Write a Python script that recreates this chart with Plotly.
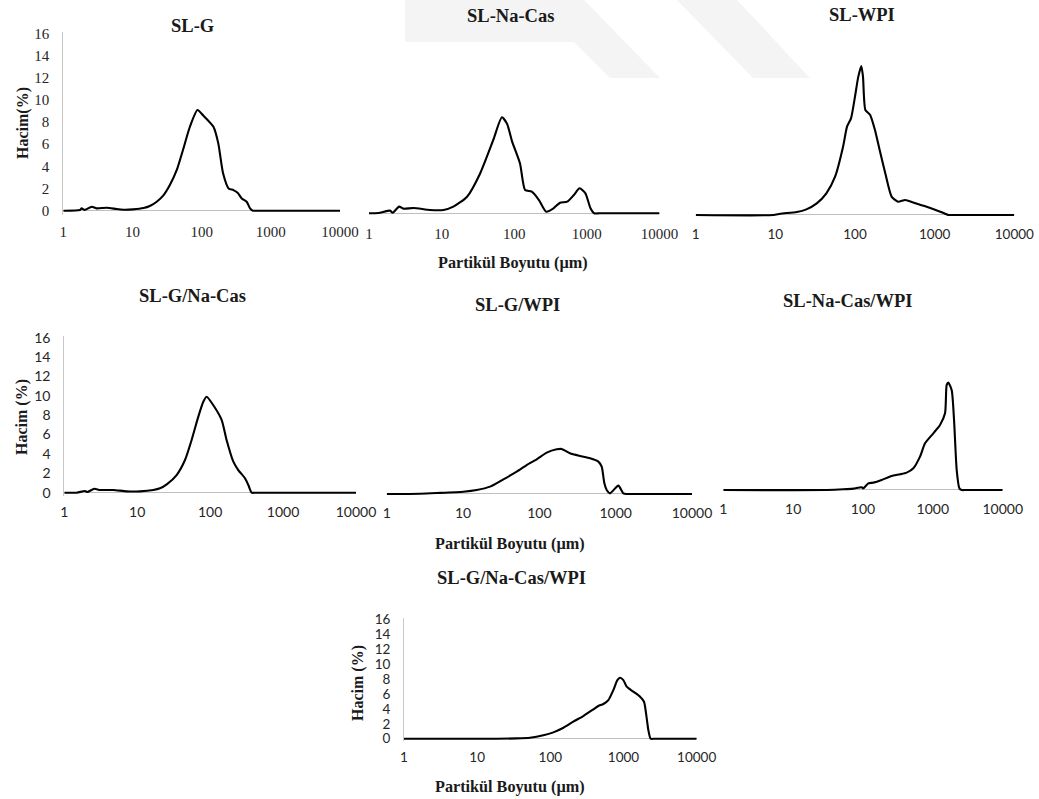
import plotly.graph_objects as go

W, H = 1039, 799

# ---------------- data (particle size in µm, volume %) ----------------
slg_size = [1, 1.74, 1.84, 2.04, 2.57, 3.02, 4.27, 5.89, 7.41, 10.2, 14.5, 17.8, 22.4, 28.2, 34.7,
            43.7, 53.7, 67.6, 87.1, 105, 148, 174, 204, 245, 288, 331, 380, 447, 501, 550, 600, 1000, 10000]
slg_vol = [0, 0.06, 0.21, 0.06, 0.36, 0.21, 0.27, 0.15, 0.09, 0.12, 0.24, 0.42, 0.81, 1.41, 2.31,
           3.67, 5.47, 7.57, 9.08, 8.6, 7.57, 6.07, 3.37, 2.01, 1.86, 1.62, 1.11, 0.81, 0.21, 0, 0, 0, 0]

slnacas_size = [1, 1.35, 1.95, 2.12, 2.6, 2.97, 4.1, 6.9, 10.6, 14.5, 22.4, 33.9, 51.3, 67.6, 79.4,
                93.3, 120, 141, 174, 219, 275, 347, 427, 537, 661, 794, 955, 1122, 1259, 1500, 10000]
slnacas_vol = [0, 0.02, 0.24, 0.05, 0.6, 0.42, 0.48, 0.3, 0.3, 0.6, 1.5, 3.6, 6.6, 8.67, 8.1,
               6.5, 4.5, 2.1, 1.95, 1.2, 0.15, 0.45, 0.96, 1.05, 1.65, 2.26, 1.8, 0.45, 0, 0, 0]

slwpi_size = [1, 9.44, 11.5, 18.6, 24.5, 33.1, 43.7, 56.2, 70.8, 79.4, 89.1, 100, 110, 120, 126,
              135, 155, 178, 204, 240, 288, 347, 427, 537, 794, 1175, 1349, 1479, 1700, 10000]
slwpi_vol = [0, 0, 0.12, 0.27, 0.51, 1.05, 1.96, 3.46, 6.17, 7.98, 8.73, 10.7, 12.5, 13.46, 12.5,
             9.49, 9.04, 7.68, 5.87, 3.77, 1.66, 1.2, 1.36, 1.14, 0.75, 0.3, 0.12, 0, 0, 0]

slgnacas_size = [1, 1.48, 1.92, 2.07, 2.58, 3.08, 4.7, 7.16, 10.9, 16.6, 20.5, 25.4, 34.7, 45.2, 55.7,
                 68.8, 80.5, 89.6, 110, 144, 168, 208, 243, 301, 334, 371, 420, 1000, 10000]
slgnacas_vol = [0, 0, 0.17, 0.07, 0.41, 0.28, 0.28, 0.14, 0.14, 0.28, 0.45, 0.86, 1.82, 3.37, 5.44,
                7.85, 9.39, 9.91, 9.05, 7.5, 5.44, 3.2, 2.34, 1.48, 0.79, 0, 0, 0, 0]

slgwpi_size = [1, 2.73, 4.52, 10.1, 15.1, 22.6, 33.8, 50.5, 68.2, 92.3, 125, 169, 196, 252, 341,
               461, 593, 656, 711, 763, 844, 1084, 1259, 1393, 1600, 10000]
slgwpi_vol = [0, 0.03, 0.1, 0.24, 0.41, 0.76, 1.51, 2.31, 2.99, 3.58, 4.27, 4.61, 4.65, 4.2, 3.92,
              3.68, 3.34, 2.82, 1.1, 0.41, 0.07, 0.86, 0.07, 0, 0, 0]

slnacaswpi_size = [1, 30.2, 52.3, 72.7, 95.7, 101, 119, 141, 185, 257, 339, 422, 526, 655, 773,
                   1016, 1267, 1494, 1578, 1667, 1862, 2011, 2195, 2399, 2588, 3000, 10000]
slnacaswpi_vol = [0, 0, 0.07, 0.14, 0.28, 0.17, 0.69, 0.76, 1.03, 1.45, 1.62, 1.79, 2.24, 3.44, 4.82,
                  5.85, 6.71, 7.91, 10.84, 11.08, 10.3, 7.23, 2.06, 0.17, 0, 0, 0]

slgnacaswpi_size = [1, 18.5, 34.7, 52.7, 80.2, 110, 151, 206, 282, 387, 453, 530, 621, 726, 824,
                    896, 995, 1104, 1362, 1683, 1905, 2032, 2183, 2351, 2700, 10000]
slgnacaswpi_vol = [0, 0, 0.04, 0.13, 0.45, 0.85, 1.47, 2.28, 3.04, 3.93, 4.38, 4.65, 5.18, 6.52, 7.86,
                   8.18, 7.86, 6.97, 6.3, 5.63, 4.96, 3.4, 1.16, 0, 0, 0]

x_tickvals = [1, 10, 100, 1000, 10000]
x_ticktext = ["1", "10", "100", "1000", "10000"]
y_tickvals = [0, 2, 4, 6, 8, 10, 12, 14, 16]

titles = ["SL-G", "SL-Na-Cas", "SL-WPI", "SL-G/Na-Cas", "SL-G/WPI", "SL-Na-Cas/WPI", "SL-G/Na-Cas/WPI"]

series = [
    (slg_size, slg_vol), (slnacas_size, slnacas_vol), (slwpi_size, slwpi_vol),
    (slgnacas_size, slgnacas_vol), (slgwpi_size, slgwpi_vol),
    (slnacaswpi_size, slnacaswpi_vol), (slgnacaswpi_size, slgnacaswpi_vol),
]

# ---------------- layout geometry (pixels) ----------------
# (x of size 1, x of size 10000, y of baseline, px per % unit, show y axis, tick font family, tick size)
SERIF = "Liberation Serif, Times New Roman, serif"
SANS = "Lato, Liberation Sans, sans-serif"
panels = [
    (63.3, 340.0, 210.7, 11.09, True, SERIF, 15),
    (369.0, 659.5, 213.3, 11.07, False, SERIF, 15),
    (695.7, 1014.3, 215.0, 11.07, False, SANS, 13.5),
    (64.3, 356.0, 492.7, 9.69, True, SANS, 14),
    (386.7, 692.0, 494.0, 9.69, False, SANS, 14),
    (723.3, 1002.7, 490.0, 9.69, False, SANS, 14),
    (404.0, 696.7, 738.7, 7.46, True, SANS, 13.5),
]

YLO, YHI = -0.35, 16.15

fig = go.Figure()
layout = dict(
    width=W, height=H, margin=dict(l=0, r=0, t=0, b=0, pad=0, autoexpand=False),
    paper_bgcolor="white", plot_bgcolor="rgba(0,0,0,0)", showlegend=False,
)

for i, ((xs, ys), (px0, px1, base, ppu, showy, tfam, tsize)) in enumerate(zip(series, panels)):
    n = "" if i == 0 else str(i + 1)
    fig.add_trace(go.Scatter(
        x=xs, y=ys, mode="lines", xaxis="x" + n, yaxis="y" + n,
        line=dict(color="black", width=2.1, shape="spline", smoothing=0.6),
        hoverinfo="skip",
    ))
    bottom = base - YLO * ppu
    top = base - YHI * ppu
    layout["xaxis" + n] = dict(
        domain=[px0 / W, px1 / W], anchor="y" + n, type="log", range=[0, 4],
        tickvals=x_tickvals, ticktext=x_ticktext, showgrid=False, showline=False,
        zeroline=False, ticks="", ticklabelstandoff=6, automargin=False,
        tickfont=dict(family=tfam, size=tsize, color="#262626"),
    )
    layout["yaxis" + n] = dict(
        domain=[1 - bottom / H, 1 - top / H], anchor="x" + n, range=[YLO, YHI],
        tickvals=y_tickvals, showgrid=False, zeroline=True, zerolinecolor="#bfbfbf",
        zerolinewidth=1, showline=showy, linecolor="#c8c8c8", linewidth=1,
        showticklabels=showy, ticks="", ticklabelstandoff=10, automargin=False,
        tickfont=dict(family=tfam, size=tsize, color="#262626"),
    )

fig.update_layout(**layout)


def P(x, y):
    return x / W, 1 - y / H


TITLE_FONT = dict(family=SERIF, size=18.5, color="#1a1a1a")
AXIS_FONT = dict(family=SERIF, size=16, color="#1a1a1a")
XTITLE_FONT = dict(family=SERIF, size=16.2, color="#1a1a1a")

title_pos = [(192, 26), (510, 16), (862, 15), (192, 296), (517, 305), (848, 301), (511, 578)]
annotations = []
for t, (x, y) in zip(titles, title_pos):
    ax, ay = P(x, y)
    annotations.append(dict(text="<b>%s</b>" % t, x=ax, y=ay, xref="paper", yref="paper",
                            xanchor="center", yanchor="middle", showarrow=False, font=TITLE_FONT))

for txt, (x, y) in [("Hacim(%)", (23, 123)), ("Hacim (%)", (22, 417)), ("Hacim (%)", (358, 683))]:
    ax, ay = P(x, y)
    annotations.append(dict(text="<b>%s</b>" % txt, x=ax, y=ay, xref="paper", yref="paper",
                            xanchor="center", yanchor="middle", showarrow=False, textangle=-90,
                            font=AXIS_FONT))

for (x, y) in [(513, 263), (510, 544), (510, 787)]:
    ax, ay = P(x, y)
    annotations.append(dict(text="<b>Partikül Boyutu (µm)</b>", x=ax, y=ay, xref="paper",
                            yref="paper", xanchor="center", yanchor="middle", showarrow=False,
                            font=XTITLE_FONT))

fig.update_layout(annotations=annotations)

# faint background watermark stripes
def poly(pts):
    s = "M " + " L ".join("%f,%f" % P(x, y) for x, y in pts) + " Z"
    return dict(type="path", path=s, xref="paper", yref="paper", fillcolor="#f4f4f4",
                line=dict(width=0), layer="below")

fig.update_layout(shapes=[
    poly([(405, 0), (532, 0), (574, 42), (405, 42)]),
    poly([(532, 0), (584, 0), (660, 78), (610, 78)]),
    poly([(677, 0), (737, 0), (810, 78), (753, 78)]),
])

fig.write_html(
    "out.html",
    config={"responsive": False, "displayModeBar": False, "staticPlot": True},
    post_script="document.body.style.margin='0';document.body.style.padding='0';"
                "document.documentElement.style.margin='0';",
)
